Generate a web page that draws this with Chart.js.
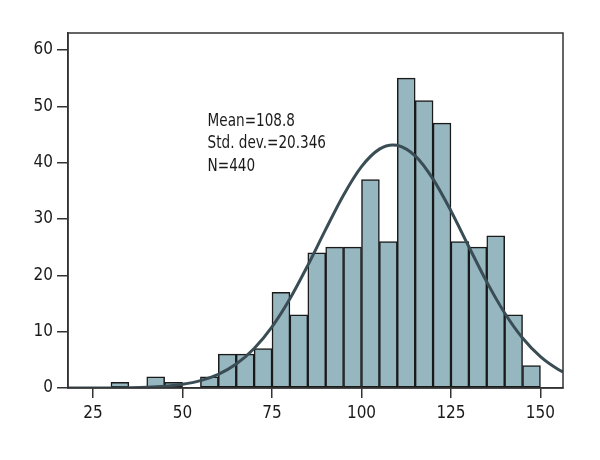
<!DOCTYPE html>
<html lang="en">
<head>
    <meta charset="UTF-8">
    <title>Histogram</title>
    <script src="https://cdn.jsdelivr.net/npm/chart.js"></script>
    <style>
        html, body { margin: 0; padding: 0; background: #ffffff; }
        #wrap { width: 600px; height: 460px; }
    </style>
</head>
<body>
    <div id="wrap"><canvas id="histChart" width="600" height="460"></canvas></div>

    <script>
        // histogram bins (start of each 5-wide bin) and counts
        const binStarts = [20, 25, 30, 35, 40, 45, 50, 55, 60, 65, 70, 75, 80, 85, 90, 95, 100, 105, 110, 115, 120, 125, 130, 135, 140, 145];
        const binCounts = [0, 0, 1, 0, 2, 1, 0, 2, 6, 6, 7, 17, 13, 24, 25, 25, 37, 26, 55, 51, 47, 26, 25, 27, 13, 4];
        const binWidth = 5;

        // fitted normal curve
        const curveX = [18, 20, 25, 30, 35, 40, 45, 50, 55, 60, 65, 70, 75, 80, 85, 90, 95, 100, 105, 108.8, 110, 115, 120, 125, 130, 135, 140, 145, 150, 155, 156.3];
        const curveY = [0, 0, 0.01, 0.02, 0.06, 0.14, 0.32, 0.66, 1.31, 2.43, 4.25, 7.0, 10.85, 15.84, 21.77, 28.15, 34.27, 39.29, 42.39, 43.14, 43.07, 41.18, 37.07, 31.42, 25.07, 18.83, 13.31, 8.86, 5.55, 3.27, 2.85];

        // axes
        const xTicks = [25, 50, 75, 100, 125, 150];
        const yTicks = [0, 10, 20, 30, 40, 50, 60];

        const statsLines = ['Mean=108.8', 'Std. dev.=20.346', 'N=440'];

        const FONT = '"DejaVu Sans Condensed", "Liberation Sans Narrow", sans-serif';
        const AXIS = '#333333';

        // frame round the plot area + stats text
        const framePlugin = {
            id: 'frame',
            afterDatasetsDraw(chart) {
                const { ctx, chartArea: a, scales } = chart;
                ctx.save();
                ctx.strokeStyle = AXIS;
                ctx.lineWidth = 1.5;
                ctx.strokeRect(a.left, a.top, a.right - a.left, a.bottom - a.top);
                ctx.fillStyle = '#1a1a1a';
                ctx.font = '18px ' + FONT;
                ctx.textBaseline = 'top';
                const x = scales.x.getPixelForValue(57);
                let y = scales.y.getPixelForValue(49.0);
                statsLines.forEach(t => {
                    ctx.save();
                    ctx.translate(x, y);
                    ctx.scale(0.84, 1);   // narrow face like the original
                    ctx.fillText(t, 0, 0);
                    ctx.restore();
                    y += 22.5;
                });
                ctx.restore();
            }
        };

        const ctx = document.getElementById('histChart').getContext('2d');
        new Chart(ctx, {
            data: {
                datasets: [
                    {
                        type: 'line',
                        data: curveX.map((x, i) => ({ x: x, y: curveY[i] })),
                        borderColor: '#3a4d55',
                        borderWidth: 3,
                        pointRadius: 0,
                        cubicInterpolationMode: 'monotone',
                        order: 0
                    },
                    {
                        type: 'bar',
                        data: binStarts.map((s, i) => ({ x: s + binWidth / 2, y: binCounts[i] })),
                        backgroundColor: '#96b6c0',
                        borderColor: '#1a1a1a',
                        borderWidth: 1.5,
                        borderSkipped: false,
                        barPercentage: 1,
                        categoryPercentage: 1,
                        order: 1
                    }
                ]
            },
            options: {
                responsive: false,
                animation: false,
                layout: { padding: { top: 33, right: 37, bottom: 32, left: 0 } },
                plugins: {
                    legend: { display: false },
                    tooltip: { enabled: false }
                },
                scales: {
                    x: {
                        type: 'linear',
                        min: 18,
                        max: 156.3,
                        offset: false,
                        afterBuildTicks: s => { s.ticks = xTicks.map(v => ({ value: v })); },
                        afterFit: s => { s.height = 40; },
                        grid: { offset: false, drawOnChartArea: false, drawTicks: true, tickLength: 10, color: AXIS, lineWidth: 1.5 },
                        border: { display: true, color: AXIS, width: 1.5 },
                        ticks: { color: '#1a1a1a', font: { family: FONT, size: 17 }, padding: 5, maxRotation: 0 }
                    },
                    y: {
                        min: 0,
                        max: 63,
                        afterBuildTicks: s => { s.ticks = yTicks.map(v => ({ value: v })); },
                        afterFit: s => { s.width = 68; },
                        grid: { drawOnChartArea: false, drawTicks: true, tickLength: 11, color: AXIS, lineWidth: 1.5 },
                        border: { display: true, color: AXIS, width: 1.5 },
                        ticks: { color: '#1a1a1a', font: { family: FONT, size: 17 }, padding: 4 }
                    }
                }
            },
            plugins: [framePlugin]
        });
    </script>
</body>
</html>
